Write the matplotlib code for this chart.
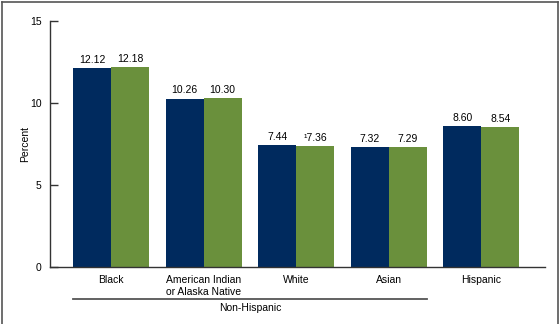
import numpy as np
import matplotlib.pyplot as plt
from matplotlib.lines import Line2D
import matplotlib.transforms as mtransforms

plt.rcParams['font.family'] = ['Liberation Sans', 'DejaVu Sans']

groups = ['Black', 'American Indian\nor Alaska Native', 'White', 'Asian', 'Hispanic']
first = [12.12, 10.26, 7.44, 7.32, 8.60]
second = [12.18, 10.30, 7.36, 7.29, 8.54]
first_labels = ['12.12', '10.26', '7.44', '7.32', '8.60']
second_labels = ['12.18', '10.30', '\u00b97.36', '7.29', '8.54']

navy = '#002a5e'
green = '#6a903c'

fig = plt.figure(figsize=(5.6, 3.24), dpi=100)
ax = fig.add_axes([50 / 560, 1 - 267 / 324, 495 / 560, 246 / 324])

x = np.arange(len(groups))
w = 0.41
b1 = ax.bar(x - w / 2, first, w, color=navy, linewidth=0)
b2 = ax.bar(x + w / 2, second, w, color=green, linewidth=0)

for bar, lab in zip(b1, first_labels):
    ax.text(bar.get_x() + bar.get_width() / 2, bar.get_height() + 0.2, lab,
            ha='center', va='bottom', fontsize=7.5)
for bar, lab in zip(b2, second_labels):
    ax.text(bar.get_x() + bar.get_width() / 2, bar.get_height() + 0.2, lab,
            ha='center', va='bottom', fontsize=7.5)

ax.set_xlim(-0.66, 4.69)
ax.set_ylim(0, 15)
ax.set_yticks([0, 5, 10, 15])
ax.set_xticks(x)
ax.set_xticklabels(groups, fontsize=7.5, ha='center', multialignment='left')
ax.tick_params(axis='x', length=0, pad=6)
ax.tick_params(axis='y', direction='in', length=6, width=1, labelsize=7.5, pad=6, color='#333333')
ax.set_ylabel('Percent', fontsize=7.5, labelpad=0)

for s in ['top', 'right']:
    ax.spines[s].set_visible(False)
for s in ['left', 'bottom']:
    ax.spines[s].set_color('#333333')
    ax.spines[s].set_linewidth(1)

# Non-Hispanic bracket
trans = mtransforms.blended_transform_factory(ax.transData, ax.transAxes)
ax.plot([-w, 3 + w], [-0.13, -0.13], color='#555555', lw=1.3, transform=trans, clip_on=False)
ax.text((-w + 3 + w) / 2, -0.168, 'Non-Hispanic', transform=trans, ha='center', va='center', fontsize=7.5)

# frame around figure (bottom edge cut off)
fc = '#555555'
fig.lines.append(Line2D([1.5 / 560, 1.5 / 560], [0, 1 - 2 / 324], color=fc, lw=1.2, transform=fig.transFigure))
fig.lines.append(Line2D([1.5 / 560, 557.5 / 560], [1 - 2 / 324, 1 - 2 / 324], color=fc, lw=1.2, transform=fig.transFigure))
fig.lines.append(Line2D([557.5 / 560, 557.5 / 560], [0, 1 - 2 / 324], color=fc, lw=1.2, transform=fig.transFigure))

fig.savefig('out.png', dpi=100)
